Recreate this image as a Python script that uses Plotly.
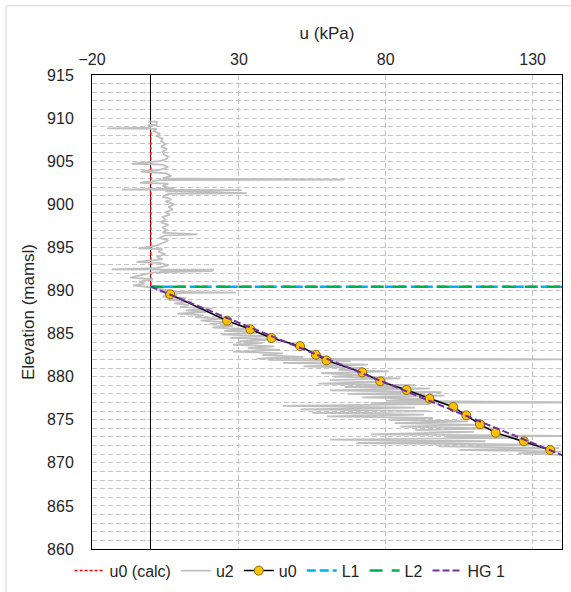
import plotly.graph_objects as go

# ---- data -------------------------------------------------------------
water_elev = 890.44          # phreatic level (mamsl)
u_axis_range = [-20, 140]
elev_axis_range = [860, 915]

# calculated hydrostatic u0 above the water table (zero pressure)
u0calc_elev = [908.4, water_elev]
u0calc_u = [0, 0]

# measured u2 (kPa) against elevation (mamsl), top to bottom
u2_elev = [
    909.6, 909.6, 909.2, 909.2, 908.9, 908.8, 908.75, 908.5, 908.2, 907.9,
    907.6, 907.3, 907.0, 906.7, 906.4, 906.1, 905.8, 905.5, 905.2, 905.0,
    904.7, 904.6, 904.3, 904.0, 903.8, 903.6, 903.3, 903.0, 902.85, 902.8,
    902.5, 902.4, 902.1, 901.8, 901.7, 901.65, 901.5, 901.3, 901.2, 900.9,
    900.6, 900.3, 900.0, 899.7, 899.4, 899.1, 898.8, 898.5, 898.2, 897.9,
    897.6, 897.3, 897.0, 896.7, 896.5, 896.4, 896.1, 895.8, 895.5, 895.2,
    894.9, 894.8, 894.5, 894.2, 893.9, 893.6, 893.3, 893.2, 892.9, 892.6,
    892.45, 892.4, 892.3, 892.25, 892.1, 891.8, 891.5, 891.3, 891.0, 890.8,
    890.6, 890.4, 890.2, 890.0, 889.85, 889.75, 889.7, 889.5, 889.3, 889.1,
    888.9, 888.7, 888.5, 888.3, 888.1, 887.9, 887.7, 887.5, 887.3, 887.1,
    886.9, 886.7, 886.5, 886.3, 886.1, 885.9, 885.7, 885.5, 885.3, 885.1,
    884.9, 884.7, 884.5, 884.3, 884.1, 883.9, 883.7, 883.5, 883.3, 883.1,
    882.9, 882.7, 882.5, 882.3, 882.1, 882.0, 881.95, 881.8, 881.6, 881.4,
    881.2, 881.0, 880.8, 880.6, 880.4, 880.2, 880.0, 879.8, 879.6, 879.4,
    879.2, 879.0, 878.8, 878.6, 878.4, 878.2, 878.0, 877.8, 877.6, 877.4,
    877.2, 877.0, 876.95, 876.8, 876.6, 876.4, 876.2, 876.0, 875.8, 875.6,
    875.4, 875.2, 875.0, 874.8, 874.6, 874.4, 874.2, 874.0, 873.8, 873.6,
    873.3, 873.1, 873.05, 872.9, 872.7, 872.5, 872.3, 872.1, 871.9, 871.7,
    871.5, 871.3, 871.1, 870.9, 870.8,
]
u2_u = [
    -1.0, 2.0, 2.0, -1.0, 0.0, -14.8, 2.0, 1.0, 3.0, 2.0,
    4.0, 3.5, 5.0, 3.5, 5.5, 4.0, 4.5, 6.0, 5.0, 3.0,
    -6.5, 4.0, 6.0, 3.0, -3.5, 5.0, 7.0, 4.0, 66.0, 3.0,
    -3.6, 6.0, 4.0, 8.0, -9.9, 31.0, 5.0, 32.7, 6.0, 4.0,
    7.0, 5.0, 8.0, 6.0, 7.5, 5.0, 6.5, 4.0, 5.0, 3.5,
    6.0, 4.0, 5.5, 4.0, 15.9, 5.0, 3.0, 6.0, 4.0, 2.0,
    -4.2, 4.0, 2.5, 5.0, 2.0, 4.0, -4.8, 3.0, 6.0, 2.0,
    -13.3, 21.5, 3.0, 21.0, 1.0, -3.0, -7.0, 0.8, -4.0, -2.0,
    -6.0, -1.0, 2.0, 6.0, 3.0, 29.0, 5.0, 9.0, 4.0, 12.0,
    6.0, 14.0, 8.0, 13.0, 10.0, 21.0, 12.0, 19.0, 9.0, 18.0,
    15.0, 25.0, 17.0, 26.0, 20.0, 28.0, 21.0, 34.0, 25.0, 36.0,
    24.0, 40.0, 27.0, 42.0, 30.0, 38.0, 28.0, 42.0, 33.0, 44.0,
    28.0, 45.0, 38.0, 52.0, 36.0, 150.0, 40.0, 68.0, 45.0, 74.0,
    52.0, 72.0, 64.0, 81.0, 58.0, 71.0, 62.0, 85.0, 61.0, 78.0,
    57.0, 90.0, 66.0, 95.0, 61.0, 99.0, 67.0, 100.0, 72.0, 95.0,
    80.0, 150.0, 75.0, 95.0, 45.0, 90.0, 51.0, 95.0, 55.0, 93.0,
    60.0, 96.0, 81.0, 108.0, 83.0, 112.0, 85.0, 118.0, 90.0, 110.0,
    75.0, 150.0, 100.0, 125.0, 61.0, 114.0, 70.0, 130.0, 98.0, 139.0,
    105.0, 140.0, 125.0, 145.0, 150.0,
]

# u0 at the measurement points
u0_elev = [889.55, 886.49, 885.49, 884.48, 883.55, 882.54, 881.89, 880.50,
           879.46, 878.45, 877.44, 876.48, 875.51, 874.47, 873.49, 872.50,
           871.49]
u0_u = [6.6, 26.0, 33.9, 41.1, 50.8, 56.2, 59.8, 72.0,
        78.1, 87.1, 94.9, 103.0, 107.4, 112.1, 117.4, 127.0,
        136.0]

# phreatic lines
L1_u = [0, 140]
L1_elev = [water_elev, water_elev]
L2_u = [0, 140]
L2_elev = [water_elev, water_elev]

# hydraulic gradient line
HG1_u = [0, 140]
HG1_elev = [water_elev, 870.9]

# ---- figure -----------------------------------------------------------
FONT = "Liberation Sans, Arial, sans-serif"
TXT = "#262626"
GRID = "#c4c4c4"

fig = go.Figure()

fig.add_trace(go.Scatter(
    x=u0calc_u, y=u0calc_elev, name="u0 (calc)", mode="lines",
    line=dict(color="#ff0000", width=1.5, dash="3px,2px")))

fig.add_trace(go.Scatter(
    x=u2_u, y=u2_elev, name="u2", mode="lines",
    line=dict(color="#bfbfbf", width=1.8)))

fig.add_trace(go.Scatter(
    x=u0_u, y=u0_elev, name="u0", mode="lines+markers",
    line=dict(color="#000000", width=1.5),
    marker=dict(symbol="circle", size=9, color="#ffc000",
                line=dict(color="#8c6d00", width=1))))

fig.add_trace(go.Scatter(
    x=L1_u, y=L1_elev, name="L1", mode="lines",
    line=dict(color="#00b0f0", width=2.5, dash="9px,4px")))

fig.add_trace(go.Scatter(
    x=L2_u, y=L2_elev, name="L2", mode="lines",
    line=dict(color="#00b050", width=2.5, dash="13px,9px")))

fig.add_trace(go.Scatter(
    x=HG1_u, y=HG1_elev, name="HG 1", mode="lines",
    line=dict(color="#7030a0", width=2, dash="7px,3px")))

# light frame round the whole chart
fig.add_shape(type="rect", xref="paper", yref="paper",
              x0=-0.183, x1=1.08, y0=-0.15, y1=1.146,
              line=dict(color="#d9d9d9", width=1), layer="below")

fig.update_layout(
    width=571, height=592,
    margin=dict(l=92, r=9, t=75, b=43, autoexpand=False),
    paper_bgcolor="white", plot_bgcolor="white",
    font=dict(family=FONT, color=TXT, size=16),
    showlegend=True,
    legend=dict(orientation="h", xref="container", yref="container",
                x=0.508, xanchor="center", y=0.036, yanchor="middle",
                font=dict(size=16, color=TXT),
                itemwidth=30, tracegroupgap=0, bgcolor="rgba(0,0,0,0)"),
)

fig.update_xaxes(
    side="top", range=u_axis_range, tick0=-20, dtick=50,
    title=dict(text="u (kPa)", font=dict(size=17, color=TXT), standoff=6),
    tickfont=dict(size=16, color=TXT),
    showgrid=True, gridcolor=GRID, griddash="5px,3px", gridwidth=1,
    zeroline=True, zerolinecolor="#000000", zerolinewidth=1.3,
    showline=True, mirror=True, linecolor="#000000", linewidth=1,
    ticks="", ticklabelstandoff=3,
)

fig.update_yaxes(
    range=elev_axis_range, dtick=5,
    title=dict(text="Elevation (mamsl)", font=dict(size=17, color=TXT), standoff=8),
    tickfont=dict(size=16, color=TXT),
    showgrid=True, gridcolor=GRID, griddash="5px,3px", gridwidth=1,
    minor=dict(dtick=1, showgrid=True, gridcolor=GRID, griddash="5px,3px", gridwidth=1),
    zeroline=False,
    showline=True, mirror=True, linecolor="#000000", linewidth=1,
    ticks="", ticklabelstandoff=14,
)

fig.write_html("out.html")
